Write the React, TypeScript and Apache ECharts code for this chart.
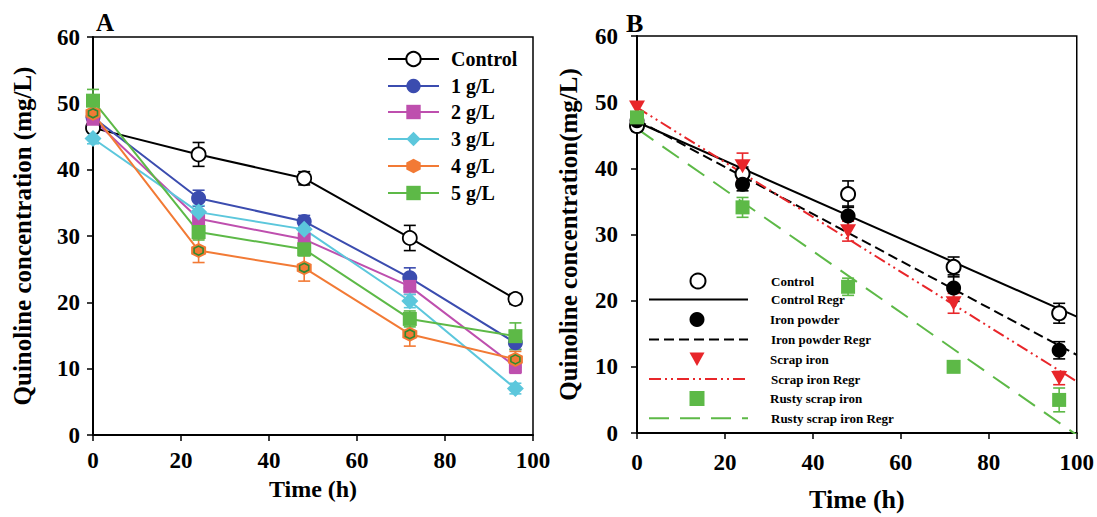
import React, { useEffect, useRef } from 'react';
import * as echarts from 'echarts';

const FONT = '"Liberation Serif", "Times New Roman", serif';

// ---------- Panel A data ----------
const timeH = [0, 24, 48, 72, 96];
const xTicks = [0, 20, 40, 60, 80, 100];
const seriesNamesA = ['Control', '1 g/L', '2 g/L', '3 g/L', '4 g/L', '5 g/L'];
const controlA = [46.3, 42.3, 38.7, 29.7, 20.5];
const g1 = [47.9, 35.7, 32.2, 23.7, 13.9];
const g2 = [47.6, 32.6, 29.5, 22.4, 10.3];
const g3 = [44.7, 33.6, 31.0, 20.2, 7.0];
const g4 = [48.5, 27.8, 25.2, 15.2, 11.4];
const g5 = [50.4, 30.6, 28.0, 17.5, 14.9];
const controlAErr = [0.8, 1.8, 1.0, 1.9, 0.8];
const g1Err = [1.0, 1.2, 0.9, 1.5, 1.0];
const g2Err = [1.0, 1.2, 1.0, 1.2, 1.0];
const g3Err = [0.8, 1.0, 0.9, 1.0, 0.8];
const g4Err = [1.2, 1.8, 2.0, 1.8, 1.2];
const g5Err = [1.7, 1.2, 1.0, 1.2, 2.0];

// ---------- Panel B data ----------
const controlB = [46.4, 39.2, 36.1, 25.1, 18.1];
const ironPowder = [47.2, 37.6, 32.8, 21.9, 12.5];
const scrapIron = [49.2, 40.3, 30.5, 19.6, 8.3];
const rustyScrap = [47.7, 34.1, 22.1, 10.0, 5.0];
const controlBErr = [0.8, 1.0, 2.0, 1.5, 1.5];
const ironPowderErr = [0.8, 1.0, 1.5, 2.0, 1.3];
const scrapIronErr = [0.8, 2.0, 1.5, 1.5, 1.0];
const rustyScrapErr = [0.8, 1.5, 1.3, 0.5, 1.8];
// regression lines evaluated at t = 0 and t = 100
const regrX = [0, 100];
const controlRegr = [47.0, 17.6];
const ironRegr = [47.3, 11.8];
const scrapRegr = [49.2, 7.8];
const rustyRegr = [46.0, -0.3];

const HEX = 'path://M0,-10L8.66,-5L8.66,5L0,10L-8.66,5L-8.66,-5Z';
const DOWN_TRI = 'path://M0,0L10,0L5,9Z';

const C_BLUE = '#3B4CAF';
const C_MAG = '#BE4FAE';
const C_CYAN = '#5CC7DC';
const C_ORANGE = '#F27A35';
const C_GREEN = '#5DB947';
const C_DKGREEN = '#2F8A2F';
const C_RED = '#E8262A';

const pts = (xs: number[], ys: number[]) => xs.map((x, i) => [x, ys[i]]);

function errSeries(name: string, ys: number[], es: number[], color: string, axis: number) {
  return {
    type: 'custom',
    name: name + ' err',
    xAxisIndex: axis,
    yAxisIndex: axis,
    z: 2,
    data: timeH.map((t, i) => [t, ys[i] - es[i], ys[i] + es[i]]),
    encode: { x: 0, y: [1, 2] },
    renderItem: (params: any, api: any) => {
      const lo = api.coord([api.value(0), api.value(1)]);
      const hi = api.coord([api.value(0), api.value(2)]);
      const hw = 6;
      const style = { stroke: color, lineWidth: 1.6, fill: 'none' };
      return {
        type: 'group',
        children: [
          { type: 'line', shape: { x1: lo[0], y1: lo[1], x2: hi[0], y2: hi[1] }, style },
          { type: 'line', shape: { x1: lo[0] - hw, y1: lo[1], x2: lo[0] + hw, y2: lo[1] }, style },
          { type: 'line', shape: { x1: hi[0] - hw, y1: hi[1], x2: hi[0] + hw, y2: hi[1] }, style },
        ],
      };
    },
  };
}

const axisCommon = {
  axisLine: { show: true, onZero: false, lineStyle: { color: '#000', width: 2 } },
  axisTick: { show: true, inside: false, length: 6, lineStyle: { color: '#000', width: 1.5 } },
  splitLine: { show: false },
  nameTextStyle: { fontFamily: FONT, fontWeight: 'bold', color: '#000' },
};

const tickLabel = (margin: number) => ({
  fontFamily: FONT,
  fontWeight: 'bold',
  fontSize: 23,
  color: '#000',
  margin,
});

function buildOption() {
  const legendRowsA = [58, 85, 111, 138, 165, 192];
  const legendsA = seriesNamesA.map((n, i) => ({
    data: [n],
    left: 387,
    top: legendRowsA[i] - 9,
    padding: 0,
    itemWidth: 51,
    itemHeight: 18,
    selectedMode: false,
    textStyle: { fontFamily: FONT, fontWeight: 'bold', fontSize: 20, color: '#000', lineHeight: 18, padding: [0, 0, 0, 7] },
  }));

  const legendRowsB = [280, 299.5, 319.5, 339.5, 359.3, 379, 398.5, 418.3];
  const legendNamesB = [
    'B Control', 'Control Regr', 'Iron powder', 'Iron powder Regr',
    'Scrap iron', 'Scrap iron Regr', 'Rusty scrap iron', 'Rusty scrap iron Regr',
  ];
  const legendLabelsB = [
    'Control', 'Control Regr', 'Iron powder', 'Iron powder Regr',
    'Scrap iron', 'Scrap iron Regr', 'Rusty scrap iron', 'Rusty scrap iron Regr',
  ];
  const legendsB = legendNamesB.map((n, i) => {
    const isLine = i % 2 === 1;
    return isLine
      ? {
          data: [n],
          left: 648,
          top: legendRowsB[i] - 7,
          padding: 0,
          itemWidth: 99,
          itemHeight: 14,
          selectedMode: false,
          itemStyle: { opacity: 0 },
          formatter: legendLabelsB[i],
          textStyle: { fontFamily: FONT, fontWeight: 'bold', fontSize: 13, color: '#000', lineHeight: 14, padding: [0, 0, 0, 18] },
        }
      : {
          data: [n],
          left: 689.5,
          top: legendRowsB[i] - 7.5,
          padding: 0,
          itemWidth: 15,
          itemHeight: 15,
          selectedMode: false,
          formatter: legendLabelsB[i],
          textStyle: { fontFamily: FONT, fontWeight: 'bold', fontSize: 13, color: '#000', lineHeight: 15, padding: [0, 0, 0, 60.5] },
        };
  });

  const lineA = (name: string, ys: number[], color: string, symbol: string, size: number, itemStyle: any) => ({
    type: 'line',
    name,
    xAxisIndex: 0,
    yAxisIndex: 0,
    z: 3,
    data: pts(timeH, ys),
    symbol,
    symbolSize: size,
    lineStyle: { color, width: 2 },
    itemStyle: { color, opacity: 1, ...itemStyle },
  });

  const regr = (name: string, ys: number[], color: string, type: any) => ({
    type: 'line',
    name,
    xAxisIndex: 1,
    yAxisIndex: 1,
    z: 2,
    data: pts(regrX, ys),
    symbol: 'none',
    showSymbol: false,
    lineStyle: { color, width: 2, type },
    itemStyle: { color },
  });

  const scatB = (name: string, ys: number[], symbol: string, size: number | number[], itemStyle: any) => ({
    type: 'scatter',
    name,
    xAxisIndex: 1,
    yAxisIndex: 1,
    z: 4,
    data: pts(timeH, ys),
    symbol,
    symbolSize: size,
    itemStyle: { opacity: 1, ...itemStyle },
  });

  return {
    animation: false,
    backgroundColor: '#fff',
    title: [
      { text: 'A', left: 96, top: 10, padding: 0, textStyle: { fontFamily: FONT, fontWeight: 'bold', fontSize: 25, color: '#000' } },
      { text: 'B', left: 626, top: 10, padding: 0, textStyle: { fontFamily: FONT, fontWeight: 'bold', fontSize: 26, color: '#000' } },
    ],
    legend: [...legendsA, ...legendsB],
    grid: [
      { left: 93, right: 564, top: 37, bottom: 82, show: true, borderColor: '#000', borderWidth: 1.5, backgroundColor: 'transparent' },
      { left: 637, right: 19, top: 36, bottom: 84, show: true, borderColor: '#000', borderWidth: 1.5, backgroundColor: 'transparent' },
    ],
    xAxis: [0, 1].map((g) => ({
      ...axisCommon,
      type: 'value',
      gridIndex: g,
      min: xTicks[0],
      max: xTicks[xTicks.length - 1],
      interval: 20,
      name: 'Time (h)',
      nameLocation: 'middle',
      nameGap: g === 0 ? 37 : 53,
      nameTextStyle: { ...axisCommon.nameTextStyle, fontSize: g === 0 ? 24 : 26 },
      axisLabel: tickLabel(g === 0 ? 14 : 18),
    })),
    yAxis: [0, 1].map((g) => ({
      ...axisCommon,
      type: 'value',
      gridIndex: g,
      min: 0,
      max: 60,
      interval: 10,
      name: g === 0 ? 'Quinoline concentration (mg/L)' : 'Quinoline concentration(mg/L)',
      nameLocation: 'middle',
      nameGap: g === 0 ? 58 : 56,
      nameTextStyle: { ...axisCommon.nameTextStyle, fontSize: 25 },
      axisLabel: tickLabel(g === 0 ? 13 : 19),
    })),
    series: [
      errSeries('Control', controlA, controlAErr, '#000', 0),
      errSeries('1 g/L', g1, g1Err, C_BLUE, 0),
      errSeries('2 g/L', g2, g2Err, C_MAG, 0),
      errSeries('3 g/L', g3, g3Err, C_CYAN, 0),
      errSeries('4 g/L', g4, g4Err, C_ORANGE, 0),
      errSeries('5 g/L', g5, g5Err, C_GREEN, 0),
      lineA('Control', controlA, '#000', 'circle', 14, { color: '#fff', borderColor: '#000', borderWidth: 1.8 }),
      lineA('1 g/L', g1, C_BLUE, 'circle', 15, {}),
      lineA('2 g/L', g2, C_MAG, 'rect', 13, {}),
      lineA('3 g/L', g3, C_CYAN, 'diamond', 17, {}),
      lineA('4 g/L', g4, C_ORANGE, HEX, 15, {}),
      lineA('5 g/L', g5, C_GREEN, 'rect', 14, {}),
      {
        type: 'scatter',
        name: '4 g/L inner',
        xAxisIndex: 0,
        yAxisIndex: 0,
        z: 4,
        data: pts(timeH, g4),
        symbol: HEX,
        symbolSize: 9,
        itemStyle: { color: C_ORANGE, borderColor: C_DKGREEN, borderWidth: 1.6, opacity: 1 },
      },
      regr('Control Regr', controlRegr, '#000', 'solid'),
      regr('Iron powder Regr', ironRegr, '#000', [10, 5]),
      regr('Scrap iron Regr', scrapRegr, C_RED, [12, 4, 2, 4, 2, 4]),
      regr('Rusty scrap iron Regr', rustyRegr, C_GREEN, [20, 11]),
      errSeries('B Control', controlB, controlBErr, '#000', 1),
      errSeries('Iron powder', ironPowder, ironPowderErr, '#000', 1),
      errSeries('Scrap iron', scrapIron, scrapIronErr, C_RED, 1),
      errSeries('Rusty scrap iron', rustyScrap, rustyScrapErr, C_GREEN, 1),
      scatB('B Control', controlB, 'circle', 14, { color: '#fff', borderColor: '#000', borderWidth: 2 }),
      scatB('Iron powder', ironPowder, 'circle', 15, { color: '#000' }),
      scatB('Scrap iron', scrapIron, DOWN_TRI, [16, 14], { color: C_RED }),
      scatB('Rusty scrap iron', rustyScrap, 'rect', 14, { color: C_GREEN }),
    ],
  };
}

export default function App() {
  const ref = useRef<HTMLDivElement>(null);
  useEffect(() => {
    if (!ref.current) return;
    const chart = echarts.init(ref.current, null, { renderer: 'svg' });
    chart.setOption(buildOption() as any);
    return () => chart.dispose();
  }, []);
  return (
    <div
      ref={ref}
      style={{ position: 'fixed', left: 0, top: 0, width: 1097, height: 517, background: '#fff' }}
    />
  );
}
